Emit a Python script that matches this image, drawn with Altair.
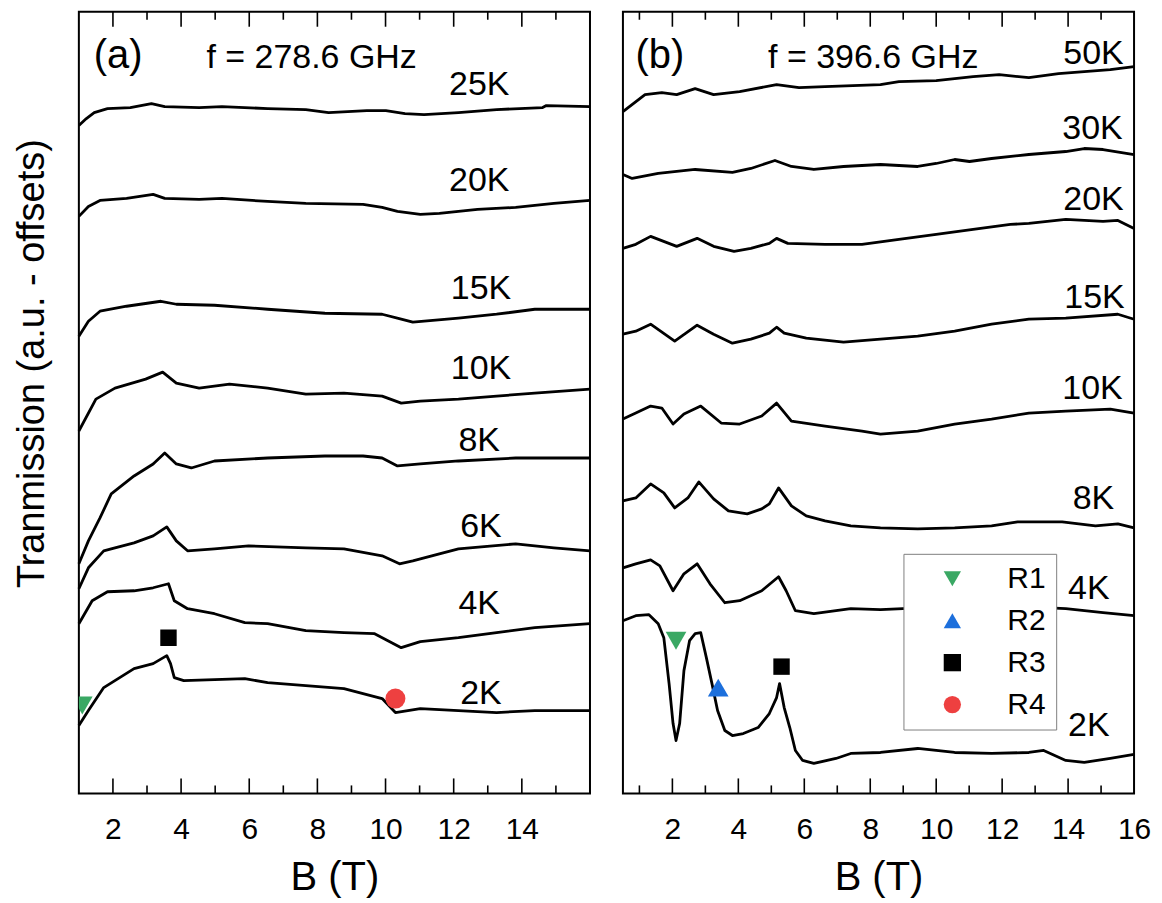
import altair as alt
import pandas as pd

FONT = "Liberation Sans"

# ---------------- panel (a): f = 278.6 GHz ----------------
A25_B = [1.0, 1.22, 1.45, 1.84, 2.51, 3.13, 3.52, 4.53, 5.20, 6.54, 7.66, 8.33, 9.45, 10.01, 10.57, 11.13, 12.14, 13.26, 14.61, 14.72, 16.0]
A25_T = [669, 676, 682, 686, 687, 691, 688, 687, 688, 686, 685, 682, 684, 684, 681, 680, 682, 685, 687, 689, 688]
A20_B = [1.0, 1.28, 1.62, 2.40, 3.18, 3.52, 4.53, 5.20, 6.54, 7.66, 9.34, 9.90, 10.35, 11.02, 11.58, 12.70, 13.82, 14.94, 16.0]
A20_T = [578, 588, 594, 596, 600, 596, 595, 596, 593, 591, 590, 587, 583, 580, 581, 585, 587, 591, 594]
A15_B = [1.0, 1.28, 1.62, 2.40, 3.41, 3.86, 4.98, 6.54, 8.22, 9.90, 10.46, 10.80, 12.14, 13.26, 14.38, 16.0]
A15_T = [458, 473, 483, 488, 493, 490, 489, 485, 481, 480, 475, 472, 476, 480, 485, 485]
A10_B = [1.0, 1.50, 2.06, 2.96, 3.46, 3.86, 4.53, 5.42, 6.54, 7.66, 8.78, 9.90, 10.46, 11.02, 12.14, 13.26, 14.38, 16.0]
A10_T = [363, 395, 406, 415, 422, 411, 406, 410, 406, 400, 401, 398, 391, 393, 395, 398, 401, 405]
A8_B = [1.0, 1.28, 1.62, 1.95, 2.62, 3.18, 3.52, 3.86, 4.30, 4.98, 6.54, 8.22, 9.34, 9.90, 10.35, 11.02, 12.14, 13.82, 16.0]
A8_T = [230, 253, 276, 300, 318, 330, 341, 330, 326, 333, 336, 338, 338, 336, 328, 330, 333, 336, 336]
A6_B = [1.0, 1.28, 1.73, 2.06, 2.62, 3.18, 3.58, 3.86, 4.19, 4.98, 5.98, 7.66, 8.78, 9.90, 10.41, 10.80, 11.58, 12.14, 13.82, 14.94, 16.0]
A6_T = [205, 226, 243, 246, 251, 258, 267, 253, 243, 245, 248, 246, 245, 238, 230, 233, 240, 245, 250, 246, 243]
A4_B = [1.0, 1.39, 1.84, 2.62, 3.18, 3.63, 3.80, 4.19, 4.98, 5.87, 6.54, 7.66, 8.78, 9.68, 10.46, 11.02, 12.14, 13.26, 14.38, 16.0]
A4_T = [170, 193, 202, 203, 206, 210, 193, 185, 180, 171, 170, 163, 161, 160, 146, 152, 156, 161, 166, 170]
A2_B = [1.0, 1.28, 1.73, 2.62, 3.18, 3.58, 3.69, 3.80, 4.08, 4.98, 5.87, 6.54, 7.66, 8.78, 9.90, 10.29, 11.02, 12.14, 13.26, 14.38, 16.0]
A2_T = [68, 83, 106, 125, 130, 138, 130, 116, 113, 114, 115, 111, 108, 105, 95, 81, 85, 83, 81, 83, 83]

A_TEMPS = ["25K", "20K", "15K", "10K", "8K", "6K", "4K", "2K"]
A_TEMP_B = [12.75, 12.75, 12.8, 12.8, 12.75, 12.8, 12.75, 12.8]
A_TEMP_Y = [710, 613, 505, 425, 353, 267, 190, 100]

A_RES = ["R1", "R3", "R4"]
A_RES_B = [1.1, 3.63, 10.29]
A_RES_Y = [88, 156, 95]

# ---------------- panel (b): f = 396.6 GHz ----------------
B50_B = [0.5, 1.17, 1.68, 2.13, 2.69, 3.25, 4.04, 5.16, 5.84, 6.63, 8.31, 8.87, 10.0, 11.12, 11.91, 12.81, 13.71, 14.49, 15.28, 16.0]
B50_T = [683, 700, 702, 700, 706, 700, 703, 710, 707, 708, 710, 713, 714, 718, 720, 717, 721, 723, 725, 728]
B30_B = [0.5, 0.78, 1.57, 2.69, 3.82, 4.38, 5.11, 5.61, 6.29, 7.19, 8.31, 9.44, 10.0, 10.56, 11.01, 11.68, 12.81, 13.93, 14.49, 15.06, 16.0]
B30_T = [620, 616, 621, 625, 622, 626, 634, 628, 625, 628, 630, 628, 631, 635, 633, 636, 640, 643, 646, 645, 640]
B20_B = [0.5, 0.89, 1.34, 2.13, 2.75, 3.25, 3.87, 4.38, 4.94, 5.16, 5.50, 6.63, 7.75, 8.87, 10.0, 11.12, 12.25, 12.81, 13.93, 15.06, 15.51, 16.0]
B20_T = [546, 550, 558, 548, 556, 548, 543, 546, 551, 556, 551, 550, 550, 555, 560, 565, 570, 571, 575, 573, 574, 566]
B15_B = [0.5, 0.89, 1.34, 2.07, 2.75, 3.25, 3.82, 4.38, 4.94, 5.16, 5.39, 6.06, 7.19, 8.31, 9.44, 10.56, 11.68, 12.81, 13.93, 15.51, 16.0]
B15_T = [460, 463, 470, 453, 469, 460, 451, 455, 461, 467, 461, 456, 452, 455, 458, 463, 470, 475, 476, 480, 475]
B10_B = [0.5, 0.89, 1.34, 1.68, 2.02, 2.35, 2.86, 3.48, 4.04, 4.71, 5.16, 5.61, 6.63, 7.75, 8.31, 9.44, 10.56, 11.68, 12.81, 13.93, 15.28, 16.0]
B10_T = [375, 381, 388, 386, 370, 380, 388, 371, 370, 378, 391, 373, 368, 363, 360, 363, 370, 375, 381, 383, 385, 381]
B8_B = [0.5, 0.89, 1.34, 1.74, 2.07, 2.47, 2.80, 3.25, 3.70, 4.27, 4.71, 4.94, 5.22, 5.61, 6.06, 6.63, 7.41, 8.31, 9.44, 10.56, 11.68, 12.47, 13.82, 14.83, 15.51, 16.0]
B8_T = [293, 296, 310, 301, 286, 296, 312, 295, 283, 280, 285, 290, 306, 288, 278, 273, 268, 266, 265, 266, 268, 272, 272, 268, 270, 266]
B4_B = [0.5, 0.89, 1.34, 1.62, 2.02, 2.35, 2.75, 3.14, 3.59, 4.04, 4.71, 5.22, 5.45, 5.73, 6.29, 7.41, 8.31, 8.99, 10.5, 12.0, 13.26, 13.93, 15.06, 16.0]
B4_T = [226, 230, 234, 228, 203, 220, 230, 210, 191, 193, 203, 217, 203, 183, 180, 185, 184, 185, 185, 186, 186, 185, 181, 178]
B2_B = [0.5, 0.89, 1.29, 1.57, 1.74, 1.90, 2.02, 2.11, 2.22, 2.35, 2.52, 2.69, 2.86, 3.03, 3.20, 3.37, 3.59, 3.82, 4.15, 4.60,
        4.94, 5.16, 5.25, 5.39, 5.56, 5.73, 5.95, 6.29, 6.96, 7.41, 8.31, 9.44, 10.56, 11.68, 12.81, 13.26, 13.93, 14.49, 15.28, 16.0]
B2_T = [173, 178, 179, 170, 156, 110, 70, 53, 70, 123, 153, 160, 161, 136, 110, 83, 63, 58, 60, 66,
        80, 96, 110, 86, 66, 43, 33, 30, 35, 40, 41, 45, 41, 40, 41, 43, 33, 31, 35, 39]

B_TEMPS = ["50K", "30K", "20K", "15K", "10K", "8K", "4K", "2K"]
B_TEMP_B = [14.77, 14.74, 14.77, 14.8, 14.74, 14.77, 14.63, 14.63]
B_TEMP_Y = [741, 666, 594, 496, 405, 295, 205, 68]

B_RES = ["R1", "R2", "R3"]
B_RES_B = [2.11, 3.39, 5.31]
B_RES_Y = [153, 106, 127]

RES_NAMES = ["R1", "R2", "R3", "R4"]
RES_SHAPES = ["triangle-down", "triangle-up", "square", "circle"]
RES_COLORS = ["#3aa864", "#1c6fdc", "#000000", "#ee4040"]
RES_SIZES = [430, 430, 270, 400]

W, H = 512, 783
LINE_W = 2.8


def curve_table(series):
    rows = []
    for name, bs, ts in series:
        for b, t in zip(bs, ts):
            rows.append({"temp": name, "B": b, "S": t})
    return pd.DataFrame(rows)


def panel(series, temps, temp_b, temp_y, res, res_b, res_y, tag, tag_b, freq, freq_b,
          xmin, label_vals, minor_vals, major_vals, y_title, legend):
    xs = alt.Scale(domain=[xmin, 16], nice=False, zero=False)
    ys = alt.Scale(domain=[0, H], nice=False, zero=False)

    x_axis = alt.Axis(values=label_vals, format="d", ticks=False, tickSize=0, domain=False,
                      grid=False, labelFontSize=30, labelFont=FONT, labelColor="black",
                      labelPadding=21, labelOverlap=False, labelFlush=False,
                      title="B (T)", titleFont=FONT, titleFontSize=40,
                      titleFontWeight="normal", titleColor="black", titlePadding=13)
    if y_title:
        y_axis = alt.Axis(labels=False, ticks=False, domain=False, grid=False, minExtent=0,
                          title=y_title, titleFont=FONT, titleFontSize=38, titleY=352,
                          titleFontWeight="normal", titleColor="black", titlePadding=27)
    else:
        y_axis = None

    def X():
        return alt.X("B:Q", scale=xs, axis=x_axis)

    def Y():
        return alt.Y("S:Q", scale=ys, axis=y_axis)

    lines = alt.Chart(curve_table(series)).mark_line(
        color="black", strokeWidth=LINE_W, strokeJoin="round"
    ).encode(x=X(), y=Y(), detail="temp:N")

    labels = alt.Chart(pd.DataFrame({"t": temps, "B": temp_b, "S": temp_y})).mark_text(
        font=FONT, fontSize=34, color="black", align="center", baseline="middle"
    ).encode(x=X(), y=Y(), text="t:N")

    heads = alt.Chart(pd.DataFrame({
        "t": [tag, freq], "B": [tag_b, freq_b], "S": [739, 737], "fs": ["tag", "freq"]
    })).mark_text(font=FONT, color="black", align="center", baseline="middle").encode(
        x=X(), y=Y(), text="t:N",
        size=alt.Size("fs:N", scale=alt.Scale(domain=["tag", "freq"], range=[40, 34]), legend=None),
    )

    shape_scale = alt.Scale(domain=RES_NAMES, range=RES_SHAPES)
    color_scale = alt.Scale(domain=RES_NAMES, range=RES_COLORS)
    if legend:
        leg = alt.Legend(title=None, orient="none", legendX=281, legendY=543, padding=10,
                         symbolOffset=24, labelOffset=40, rowPadding=12, symbolSize=300,
                         labelFontSize=30, labelFont=FONT, labelColor="black",
                         strokeColor="#808080", fillColor="white", symbolStrokeWidth=0,
                         symbolOpacity=1)
    else:
        leg = None

    marker_base = alt.Chart(pd.DataFrame({"R": res, "B": res_b, "S": res_y})).encode(
        x=X(), y=Y(),
        shape=alt.Shape("R:N", scale=shape_scale, legend=leg),
        color=alt.Color("R:N", scale=color_scale, legend=leg),
    )
    marker_layers = [
        marker_base.transform_filter(alt.FieldEqualPredicate(field="R", equal=name)).mark_point(
            filled=True, opacity=1, strokeWidth=0, size=size, clip=True
        )
        for name, size in zip(RES_NAMES, RES_SIZES)
    ]

    def ticks(vals, y0, y1):
        return alt.Chart(pd.DataFrame({"B": vals})).mark_rule(
            color="black", strokeWidth=1.6
        ).encode(x=X(), y=alt.value(y0), y2=alt.value(y1))

    tick_layers = [
        ticks(major_vals, H, H - 15), ticks(minor_vals, H, H - 8),
        ticks(major_vals, 0, 15), ticks(minor_vals, 0, 8),
    ]

    return alt.layer(lines, *tick_layers, labels, heads, *marker_layers).properties(width=W, height=H)


panel_a = panel(
    [("25K", A25_B, A25_T), ("20K", A20_B, A20_T), ("15K", A15_B, A15_T), ("10K", A10_B, A10_T),
     ("8K", A8_B, A8_T), ("6K", A6_B, A6_T), ("4K", A4_B, A4_T), ("2K", A2_B, A2_T)],
    A_TEMPS, A_TEMP_B, A_TEMP_Y, A_RES, A_RES_B, A_RES_Y,
    "(a)", 2.15, "f = 278.6 GHz", 7.83,
    1.0, [2, 4, 6, 8, 10, 12, 14], [3, 5, 7, 9, 11, 13, 15], [2, 4, 6, 8, 10, 12, 14],
    "Tranmission (a.u. - offsets)", False,
)

panel_b = panel(
    [("50K", B50_B, B50_T), ("30K", B30_B, B30_T), ("20K", B20_B, B20_T), ("15K", B15_B, B15_T),
     ("10K", B10_B, B10_T), ("8K", B8_B, B8_T), ("4K", B4_B, B4_T), ("2K", B2_B, B2_T)],
    B_TEMPS, B_TEMP_B, B_TEMP_Y, B_RES, B_RES_B, B_RES_Y,
    "(b)", 1.62, "f = 396.6 GHz", 8.09,
    0.5, [2, 4, 6, 8, 10, 12, 14, 16], [1, 3, 5, 7, 9, 11, 13, 15], [2, 4, 6, 8, 10, 12, 14],
    None, True,
)

chart = alt.hconcat(panel_a, panel_b, spacing=27).resolve_scale(
    color="independent", shape="independent"
).properties(
    padding={"left": 13, "top": 9, "right": 10, "bottom": 0},
    background="white",
).configure_view(stroke="black", strokeWidth=2)

chart.save("out.html", embed_options={"renderer": "svg", "actions": False})
